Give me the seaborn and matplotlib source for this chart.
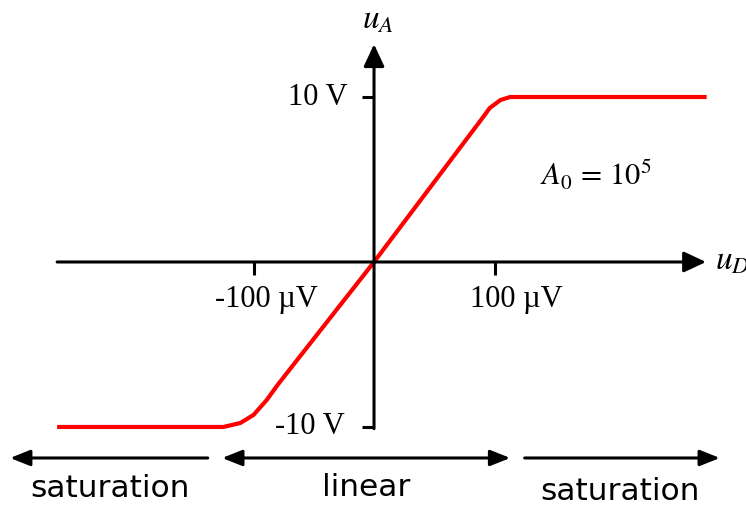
import matplotlib
matplotlib.use("Agg")
import matplotlib.pyplot as plt
import seaborn as sns
import pandas as pd

# Op-amp transfer characteristic: differential input (µV) -> output (V)
ud_uV = [-263, -125, -111, -100, -89, -80, 0, 90, 96, 105, 113, 121, 276]
ua_V = [-10, -10, -9.76, -9.27, -8.36, -7.45, 0, 8.73, 9.33, 9.82, 10, 10, 10]

x_ticks = [-100, 100]
x_tick_labels = ["-100 µV", "100 µV"]
y_ticks = [10, -10]
y_tick_labels = ["10 V", "-10 V"]

gain_label = r"$A_0\,=\,10^5$"
regions = ["saturation", "linear", "saturation"]

sns.set_theme(style="white")
plt.rcParams["font.family"] = ["DejaVu Sans"]
plt.rcParams["mathtext.fontset"] = "stix"
plt.rcParams["text.color"] = "black"

fig = plt.figure(figsize=(7.46, 5.05), dpi=100)
ax = fig.add_axes([0, 0, 1, 1])
ax.set_xlim(-310.4, 308.7)
ax.set_ylim(-14.73, 15.88)

df = pd.DataFrame({"ud": ud_uV, "ua": ua_V})
sns.lineplot(data=df, x="ud", y="ua", sort=False, estimator=None,
             color="#ff0000", linewidth=3.0, ax=ax, zorder=3)
ax.lines[-1].set_solid_joinstyle("round")
ax.lines[-1].set_solid_capstyle("butt")

# Axes drawn through the origin
for s in ["top", "right", "left", "bottom"]:
    ax.spines[s].set_visible(False)
ax.spines["left"].set_position(("data", 0))
ax.spines["bottom"].set_position(("data", 0))

ax.set_xticks(x_ticks)
ax.set_yticks(y_ticks)
ax.set_xticklabels([])
ax.set_yticklabels([])
ax.tick_params(axis="x", direction="out", length=9.5, width=2.2, color="black",
               bottom=True)
ax.tick_params(axis="y", direction="out", length=8.5, width=2.2, color="black",
               left=True)
ax.set_xlabel("")
ax.set_ylabel("")
ax.grid(False)

arrow_kw = dict(arrowstyle="-|>,head_length=0.75,head_width=0.35",
                color="black", lw=2.2, mutation_scale=18, shrinkA=0, shrinkB=0)
# horizontal axis
ax.annotate("", xy=(275.5, 0), xytext=(-263, 0), arrowprops=arrow_kw)
# vertical axis
ax.annotate("", xy=(0, 13.2), xytext=(0, -10.1), arrowprops=arrow_kw)

serif = ["Liberation Serif", "DejaVu Serif"]
for xv, lab in zip(x_ticks, x_tick_labels):
    ax.text(xv + (11 if xv < 0 else 18), -2.3, lab, ha="center", va="center",
            fontsize=22, family=serif)
for yv, lab in zip(y_ticks, y_tick_labels):
    ax.text(-21.5 if yv > 0 else -24, yv, lab, ha="right", va="center",
            fontsize=22, family=serif)

ax.text(3.5, 14.7, r"$u_A$", ha="center", va="center", fontsize=24)
ax.text(283, 0.1, r"$u_D$", ha="left", va="center", fontsize=24)
ax.text(184, 5.3, gain_label, ha="center", va="center", fontsize=22)

# operating regions below the plot
ry = -11.88
sat_kw = dict(arrowstyle="-|>,head_length=0.75,head_width=0.3",
              color="black", lw=2.2, mutation_scale=16, shrinkA=0, shrinkB=0)
lin_kw = dict(arrowstyle="<|-|>,head_length=0.75,head_width=0.3",
              color="black", lw=2.2, mutation_scale=16, shrinkA=0, shrinkB=0)
ax.annotate("", xy=(-302, ry), xytext=(-138, ry), arrowprops=sat_kw)
ax.annotate("", xy=(113, ry), xytext=(-126, ry), arrowprops=lin_kw)
ax.annotate("", xy=(287, ry), xytext=(125, ry), arrowprops=sat_kw)

ax.text(-219, -13.75, regions[0], ha="center", va="center", fontsize=22.5)
ax.text(-6.6, -13.65, regions[1], ha="center", va="center", fontsize=22.5)
ax.text(204, -13.9, regions[2], ha="center", va="center", fontsize=22.5)

fig.savefig("out.png", dpi=100)
